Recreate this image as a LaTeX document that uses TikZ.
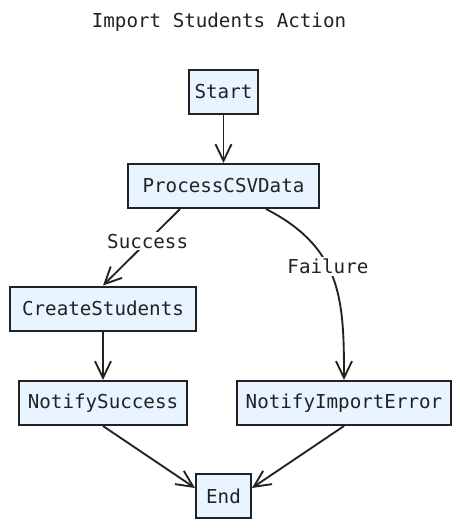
\documentclass[tikz,border=0pt]{standalone}
\usepackage{fontspec}
\setmonofont{DejaVu Sans Mono}
\usetikzlibrary{arrows.meta}
\definecolor{boxfill}{RGB}{232,244,255}
\definecolor{ink}{RGB}{34,34,34}
\tikzset{
  box/.style={draw=ink, fill=boxfill, line width=1.5pt, inner sep=0pt,
    minimum height=44*0.75pt, font=\ttfamily\fontsize{14.4}{17}\selectfont, text=ink},
  conn/.style={draw=ink, line width=1.4pt,
    -{Straight Barb[length=12.5pt, width=12pt, line width=1.4pt]}},
  lbl/.style={fill=white, inner sep=1.5pt, font=\ttfamily\fontsize{14.4}{17}\selectfont, text=ink},
}
\begin{document}
\begin{tikzpicture}[x=0.75pt, y=-0.75pt]
\useasboundingbox (0,0) rectangle (460,529);
\node[font=\ttfamily\fontsize{14.4}{17}\selectfont, text=ink] (title) at (219,22) {Import Students Action};
\node[box, minimum width=69*0.75pt] (start) at (223.5,92) {Start};
\node[box, minimum width=191*0.75pt] (proc) at (223.5,186) {ProcessCSVData};
\node[box, minimum width=186*0.75pt] (create) at (103,308.5) {CreateStudents};
\node[box, minimum width=168*0.75pt] (nsucc) at (103,403) {NotifySuccess};
\node[box, minimum width=214*0.75pt] (nerr) at (344,403) {NotifyImportError};
\node[box, minimum width=55*0.75pt] (endn) at (223.5,496) {End};

\draw[conn] (start) -- (proc);
\draw[conn] ([xshift=-43.5*0.75pt]proc.south) -- (create.north)
  node[lbl, pos=0.42] {Success};
\draw[conn] ([xshift=42.5*0.75pt]proc.south) .. controls (342,248) and (344,300) .. (nerr.north)
  node[lbl, pos=0.42] {Failure};
\draw[conn] (create) -- (nsucc);
\draw[conn] (nsucc.south) -- ([yshift=6pt]endn.west);
\draw[conn] (nerr.south) -- ([yshift=6pt]endn.east);
\end{tikzpicture}
\end{document}
